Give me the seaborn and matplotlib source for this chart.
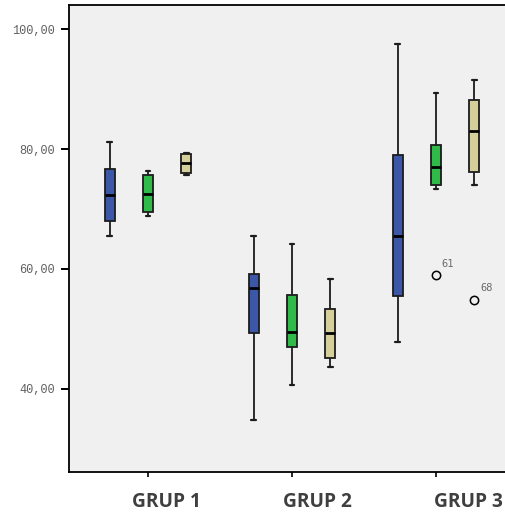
import matplotlib
matplotlib.use("Agg")
import matplotlib.pyplot as plt
import matplotlib.transforms as mtransforms
import pandas as pd
import seaborn as sns

# Groups and the three measurements shown inside each group
groups = ["GRUP 1", "GRUP 2", "GRUP 3"]
series = ["A", "B", "C"]
colors = ["#3c56a8", "#2fba4a", "#d5d09b"]

# Five-number summaries per group (lower whisker, Q1, median, Q3, upper whisker)
lower_a = [65.5, 34.85, 47.85]
q1_a = [67.95, 49.35, 55.55]
median_a = [72.3, 56.85, 65.55]
q3_a = [76.75, 59.1, 78.95]
upper_a = [81.1, 65.5, 97.55]

lower_b = [68.8, 40.6, 73.35]
q1_b = [69.45, 47.0, 74.0]
median_b = [72.55, 49.5, 77.0]
q3_b = [75.7, 55.65, 80.7]
upper_b = [76.4, 64.1, 89.3]

lower_c = [75.7, 43.6, 74.0]
q1_c = [76.05, 45.2, 76.25]
median_c = [77.75, 49.3, 83.0]
q3_c = [79.2, 53.3, 88.15]
upper_c = [79.4, 58.3, 91.6]

# Outlying cases: (group, series, value, case number)
outlier_group = ["GRUP 3", "GRUP 3"]
outlier_series = ["B", "C"]
outlier_value = [58.9, 54.8]
outlier_case = ["61", "68"]

y_ticks = [40, 60, 80, 100]
y_tick_labels = ["40,00", "60,00", "80,00", "100,00"]

summaries = {
    "A": (lower_a, q1_a, median_a, q3_a, upper_a),
    "B": (lower_b, q1_b, median_b, q3_b, upper_b),
    "C": (lower_c, q1_c, median_c, q3_c, upper_c),
}


def expand(lo, q1, med, q3, hi, extra=None):
    """Nine observations whose quartiles and whisker ends equal the summary."""
    first = lo if extra is None else extra
    return [first, lo, q1, med, med, med, q3, hi, hi]


rows = []
for s in series:
    lo, q1, med, q3, hi = summaries[s]
    for i, g in enumerate(groups):
        extra = None
        for og, os_, ov in zip(outlier_group, outlier_series, outlier_value):
            if og == g and os_ == s:
                extra = ov
        for v in expand(lo[i], q1[i], med[i], q3[i], hi[i], extra):
            rows.append({"group": g, "series": s, "value": v})
df = pd.DataFrame(rows)

sns.set_style("white")
plt.rcParams["font.family"] = ["DejaVu Sans"]

fig = plt.figure(figsize=(5.06, 5.14), dpi=100)
ax = fig.add_axes([69 / 506, 1 - 472 / 514, (515 - 69) / 506, (472 - 5) / 514])
ax.set_facecolor("#f0f0f0")

sns.boxplot(
    data=df, x="group", y="value", hue="series", order=groups,
    hue_order=series, palette=colors, width=0.8, gap=0.74,
    whis=1.5, linewidth=1.3, linecolor="#1c1c1c", saturation=1,
    fliersize=6, legend=False, ax=ax,
    medianprops={"color": "black", "linewidth": 2.0},
    flierprops={"marker": "o", "markerfacecolor": "none",
                "markeredgecolor": "black", "markeredgewidth": 1.1},
    capprops={"linewidth": 1.6},
)

# Case numbers next to the outlying points
offsets = {s: (i - 1) * 0.8 / 3 for i, s in enumerate(series)}
for og, os_, ov, oc in zip(outlier_group, outlier_series, outlier_value, outlier_case):
    xpos = groups.index(og) + offsets[os_]
    ax.annotate(oc, (xpos, ov), xytext=(4, 5), textcoords="offset points",
                ha="left", va="bottom", fontsize=7.5, color="#6a6a6a",
                family="DejaVu Sans Mono")

ax.set_xlim(-0.5486, 2.5486)
ax.set_ylim(26.1, 104.05)
ax.set_yticks(y_ticks)
ax.set_yticklabels(y_tick_labels, family="Liberation Mono", fontsize=8.6,
                   color="#606060")

# Category ticks, with the group names set a little to the right of them
ax.set_xticks(range(len(groups)))
ax.set_xticklabels([])
label_shift = [0.13, 0.177, 0.222]
trans = mtransforms.blended_transform_factory(ax.transData, ax.transAxes)
for i, g in enumerate(groups):
    ax.text(i + label_shift[i], -0.0636, g, transform=trans, ha="center",
            va="center", family="Open Sans", fontweight="bold",
            fontsize=13.8, color="#3f3f3f", clip_on=False)

ax.set_xlabel("")
ax.set_ylabel("")
ax.tick_params(axis="y", direction="out", length=6, width=1.4, pad=4,
               color="black", left=True)
ax.tick_params(axis="x", direction="out", length=3.5, width=1.2,
               color="black", bottom=True)
for side in ["left", "bottom", "top", "right"]:
    ax.spines[side].set_color("black")
    ax.spines[side].set_linewidth(1.3)

fig.savefig("out.png", dpi=100)
